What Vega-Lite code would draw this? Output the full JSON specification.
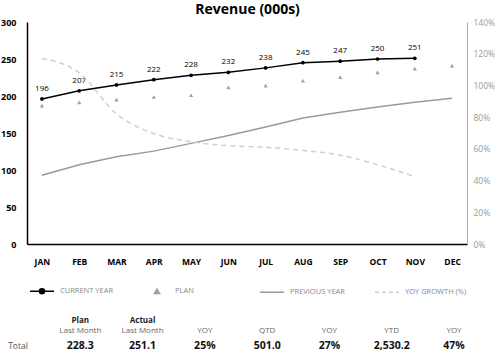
{
  "$schema": "https://vega.github.io/schema/vega-lite/v6.json",
  "padding": {"top": 3, "left": 0, "right": 0, "bottom": 0},
  "title": {"text": "Revenue (000s)", "fontSize": 14, "font": "Open Sans", "fontWeight": "bold", "anchor": "middle", "offset": 1, "color": "#000"},
  "config": {"view": {"stroke": null}, "font": "Open Sans"},
  "columns": 1,
  "align": "none",
  "spacing": 20,
  "resolve": {"scale": {"color": "independent"}, "legend": {"color": "independent"}},
  "concat": [
    {
      "width": 440,
      "height": 222,
      "data": {"values": [
        {"month": "JAN", "series": "CURRENT YEAR", "value": 196},
        {"month": "FEB", "series": "CURRENT YEAR", "value": 207},
        {"month": "MAR", "series": "CURRENT YEAR", "value": 215},
        {"month": "APR", "series": "CURRENT YEAR", "value": 222},
        {"month": "MAY", "series": "CURRENT YEAR", "value": 228},
        {"month": "JUN", "series": "CURRENT YEAR", "value": 232},
        {"month": "JUL", "series": "CURRENT YEAR", "value": 238},
        {"month": "AUG", "series": "CURRENT YEAR", "value": 245},
        {"month": "SEP", "series": "CURRENT YEAR", "value": 247},
        {"month": "OCT", "series": "CURRENT YEAR", "value": 250},
        {"month": "NOV", "series": "CURRENT YEAR", "value": 251},
        {"month": "JAN", "series": "PLAN", "value": 187},
        {"month": "FEB", "series": "PLAN", "value": 191.5},
        {"month": "MAR", "series": "PLAN", "value": 195},
        {"month": "APR", "series": "PLAN", "value": 198.7},
        {"month": "MAY", "series": "PLAN", "value": 201},
        {"month": "JUN", "series": "PLAN", "value": 211.6},
        {"month": "JUL", "series": "PLAN", "value": 214},
        {"month": "AUG", "series": "PLAN", "value": 220.6},
        {"month": "SEP", "series": "PLAN", "value": 225.6},
        {"month": "OCT", "series": "PLAN", "value": 232},
        {"month": "NOV", "series": "PLAN", "value": 237},
        {"month": "DEC", "series": "PLAN", "value": 241},
        {"month": "JAN", "series": "PREVIOUS YEAR", "value": 92.8},
        {"month": "FEB", "series": "PREVIOUS YEAR", "value": 107},
        {"month": "MAR", "series": "PREVIOUS YEAR", "value": 118},
        {"month": "APR", "series": "PREVIOUS YEAR", "value": 125.5},
        {"month": "MAY", "series": "PREVIOUS YEAR", "value": 136},
        {"month": "JUN", "series": "PREVIOUS YEAR", "value": 146.6},
        {"month": "JUL", "series": "PREVIOUS YEAR", "value": 158},
        {"month": "AUG", "series": "PREVIOUS YEAR", "value": 170.4},
        {"month": "SEP", "series": "PREVIOUS YEAR", "value": 178},
        {"month": "OCT", "series": "PREVIOUS YEAR", "value": 185},
        {"month": "NOV", "series": "PREVIOUS YEAR", "value": 191.5},
        {"month": "DEC", "series": "PREVIOUS YEAR", "value": 197},
        {"month": "JAN", "series": "YOY GROWTH (%)", "value": 1.17},
        {"month": "FEB", "series": "YOY GROWTH (%)", "value": 1.08},
        {"month": "MAR", "series": "YOY GROWTH (%)", "value": 0.82},
        {"month": "APR", "series": "YOY GROWTH (%)", "value": 0.697},
        {"month": "MAY", "series": "YOY GROWTH (%)", "value": 0.645},
        {"month": "JUN", "series": "YOY GROWTH (%)", "value": 0.62},
        {"month": "JUL", "series": "YOY GROWTH (%)", "value": 0.61},
        {"month": "AUG", "series": "YOY GROWTH (%)", "value": 0.59},
        {"month": "SEP", "series": "YOY GROWTH (%)", "value": 0.56},
        {"month": "OCT", "series": "YOY GROWTH (%)", "value": 0.5},
        {"month": "NOV", "series": "YOY GROWTH (%)", "value": 0.425}
      ]},
      "encoding": {
        "x": {
          "field": "month", "type": "ordinal",
          "sort": ["JAN","FEB","MAR","APR","MAY","JUN","JUL","AUG","SEP","OCT","NOV","DEC"],
          "scale": {"type": "point", "padding": 0.4},
          "axis": {"title": null, "labelAngle": 0, "ticks": false, "grid": false, "domainColor": "#000", "domainWidth": 1.5, "labelFontWeight": "bold", "labelFontSize": 8.5, "labelColor": "#000", "labelPadding": 13}
        },
        "color": {
          "field": "series", "type": "nominal",
          "scale": {"domain": ["CURRENT YEAR", "PLAN", "PREVIOUS YEAR", "YOY GROWTH (%)"], "range": ["#000000", "#a0a0a0", "#9a9a9a", "#cfcfcf"]},
          "legend": {
            "title": null, "orient": "none", "legendX": 2, "legendY": 256, "direction": "horizontal", "columns": 4, "gridAlign": "all", "columnPadding": 20,
            "symbolSize": 576, "symbolType": "stroke", "symbolStrokeWidth": 1.5,
            "labelFont": "Open Sans", "labelFontSize": 7.5, "labelColor": "#888", "labelOffset": 5,
            "encode": {"symbols": {"update": {
              "shape": {"signal": "datum.value === 'PLAN' ? 'M0,-0.2L0.22,0.17L-0.22,0.17Z' : datum.value === 'CURRENT YEAR' ? 'M-1,0H1M-0.21,0A0.21,0.21,0,1,0,0.21,0A0.21,0.21,0,1,0,-0.21,0Z' : 'stroke'"},
              "strokeDash": {"signal": "datum.value === 'YOY GROWTH (%)' ? [4, 3] : []"},
              "fill": {"signal": "datum.value === 'PLAN' ? '#a0a0a0' : datum.value === 'CURRENT YEAR' ? '#000000' : 'transparent'"},
              "stroke": {"signal": "datum.value === 'PLAN' ? '#a0a0a0' : datum.value === 'CURRENT YEAR' ? '#000000' : datum.value === 'PREVIOUS YEAR' ? '#9a9a9a' : '#cfcfcf'"},
              "strokeWidth": {"value": 1.5},
              "opacity": {"value": 1}
            }}}
          }
        }
      },
      "layer": [
        {
          "encoding": {
            "y": {"field": "value", "type": "quantitative", "scale": {"domain": [0, 300], "nice": false},
              "axis": {"orient": "left", "title": null, "values": [0, 50, 100, 150, 200, 250, 300], "ticks": false, "grid": false, "domainColor": "#000", "domainWidth": 1.5, "labelFontWeight": "bold", "labelFontSize": 9, "labelColor": "#000", "labelPadding": 11}}
          },
          "layer": [
            {"transform": [{"filter": "datum.series === 'PREVIOUS YEAR'"}], "mark": {"type": "line", "strokeWidth": 1.5}},
            {"transform": [{"filter": "datum.series === 'CURRENT YEAR'"}], "mark": {"type": "line", "strokeWidth": 1.5, "point": {"filled": true, "size": 14, "color": "#000"}}},
            {"transform": [{"filter": "datum.series === 'CURRENT YEAR'"}], "mark": {"type": "text", "fontSize": 8, "baseline": "bottom", "dy": -6, "color": "#000"}, "encoding": {"text": {"field": "value", "type": "quantitative"}}},
            {"transform": [{"filter": "datum.series === 'PLAN'"}], "mark": {"type": "point", "shape": "triangle-up", "filled": true, "size": 18, "opacity": 1}}
          ]
        },
        {
          "transform": [{"filter": "datum.series === 'YOY GROWTH (%)'"}],
          "mark": {"type": "line", "strokeWidth": 1.5, "strokeDash": [5, 4], "interpolate": "monotone"},
          "encoding": {
            "y": {"field": "value", "type": "quantitative", "scale": {"domain": [0, 1.4], "nice": false},
              "axis": {"orient": "right", "title": null, "values": [0, 0.2, 0.4, 0.6, 0.8, 1.0, 1.2, 1.4], "format": ".0%", "ticks": false, "grid": false, "domainColor": "#aaa", "domainWidth": 1, "labelFontSize": 8.5, "labelColor": "#999", "labelPadding": 6}}
          }
        }
      ],
      "resolve": {"scale": {"y": "independent"}}
    },
    {
      "width": 436,
      "height": 25,
      "data": {"values": [
        {"col": "Total", "row": "value", "label": "Total"},
        {"col": "Plan", "row": "head1", "label": "Plan"},
        {"col": "Plan", "row": "head2", "label": "Last Month"},
        {"col": "Plan", "row": "value", "label": "228.3"},
        {"col": "Actual", "row": "head1", "label": "Actual"},
        {"col": "Actual", "row": "head2", "label": "Last Month"},
        {"col": "Actual", "row": "value", "label": "251.1"},
        {"col": "YOY1", "row": "head2", "label": "YOY"},
        {"col": "YOY1", "row": "value", "label": "25%"},
        {"col": "QTD", "row": "head2", "label": "QTD"},
        {"col": "QTD", "row": "value", "label": "501.0"},
        {"col": "YOY2", "row": "head2", "label": "YOY"},
        {"col": "YOY2", "row": "value", "label": "27%"},
        {"col": "YTD", "row": "head2", "label": "YTD"},
        {"col": "YTD", "row": "value", "label": "2,530.2"},
        {"col": "YOY3", "row": "head2", "label": "YOY"},
        {"col": "YOY3", "row": "value", "label": "47%"}
      ]},
      "encoding": {
        "x": {"field": "col", "type": "nominal", "sort": ["Total", "Plan", "Actual", "YOY1", "QTD", "YOY2", "YTD", "YOY3"], "scale": {"type": "point", "padding": 0}, "axis": null},
        "y": {"field": "row", "type": "nominal", "scale": {"type": "point", "padding": 0, "domain": ["head1", "s1", "head2", "s2", "s3", "value"]}, "axis": null},
        "text": {"field": "label", "type": "nominal"}
      },
      "layer": [
        {"transform": [{"filter": "datum.row === 'head1'"}], "mark": {"type": "text", "fontSize": 8, "fontWeight": "bold", "color": "#222", "baseline": "middle", "dx": -9}},
        {"transform": [{"filter": "datum.row === 'head2'"}], "mark": {"type": "text", "fontSize": 8, "color": "#666", "baseline": "middle", "dx": -9}},
        {"transform": [{"filter": "datum.row === 'value' && datum.col !== 'Total'"}], "mark": {"type": "text", "fontSize": 10.5, "fontWeight": "bold", "color": "#111", "baseline": "middle", "dx": -9}},
        {"transform": [{"filter": "datum.row === 'value' && datum.col === 'Total'"}], "mark": {"type": "text", "fontSize": 8.5, "color": "#555", "baseline": "middle", "dx": -9}}
      ]
    }
  ]
}
